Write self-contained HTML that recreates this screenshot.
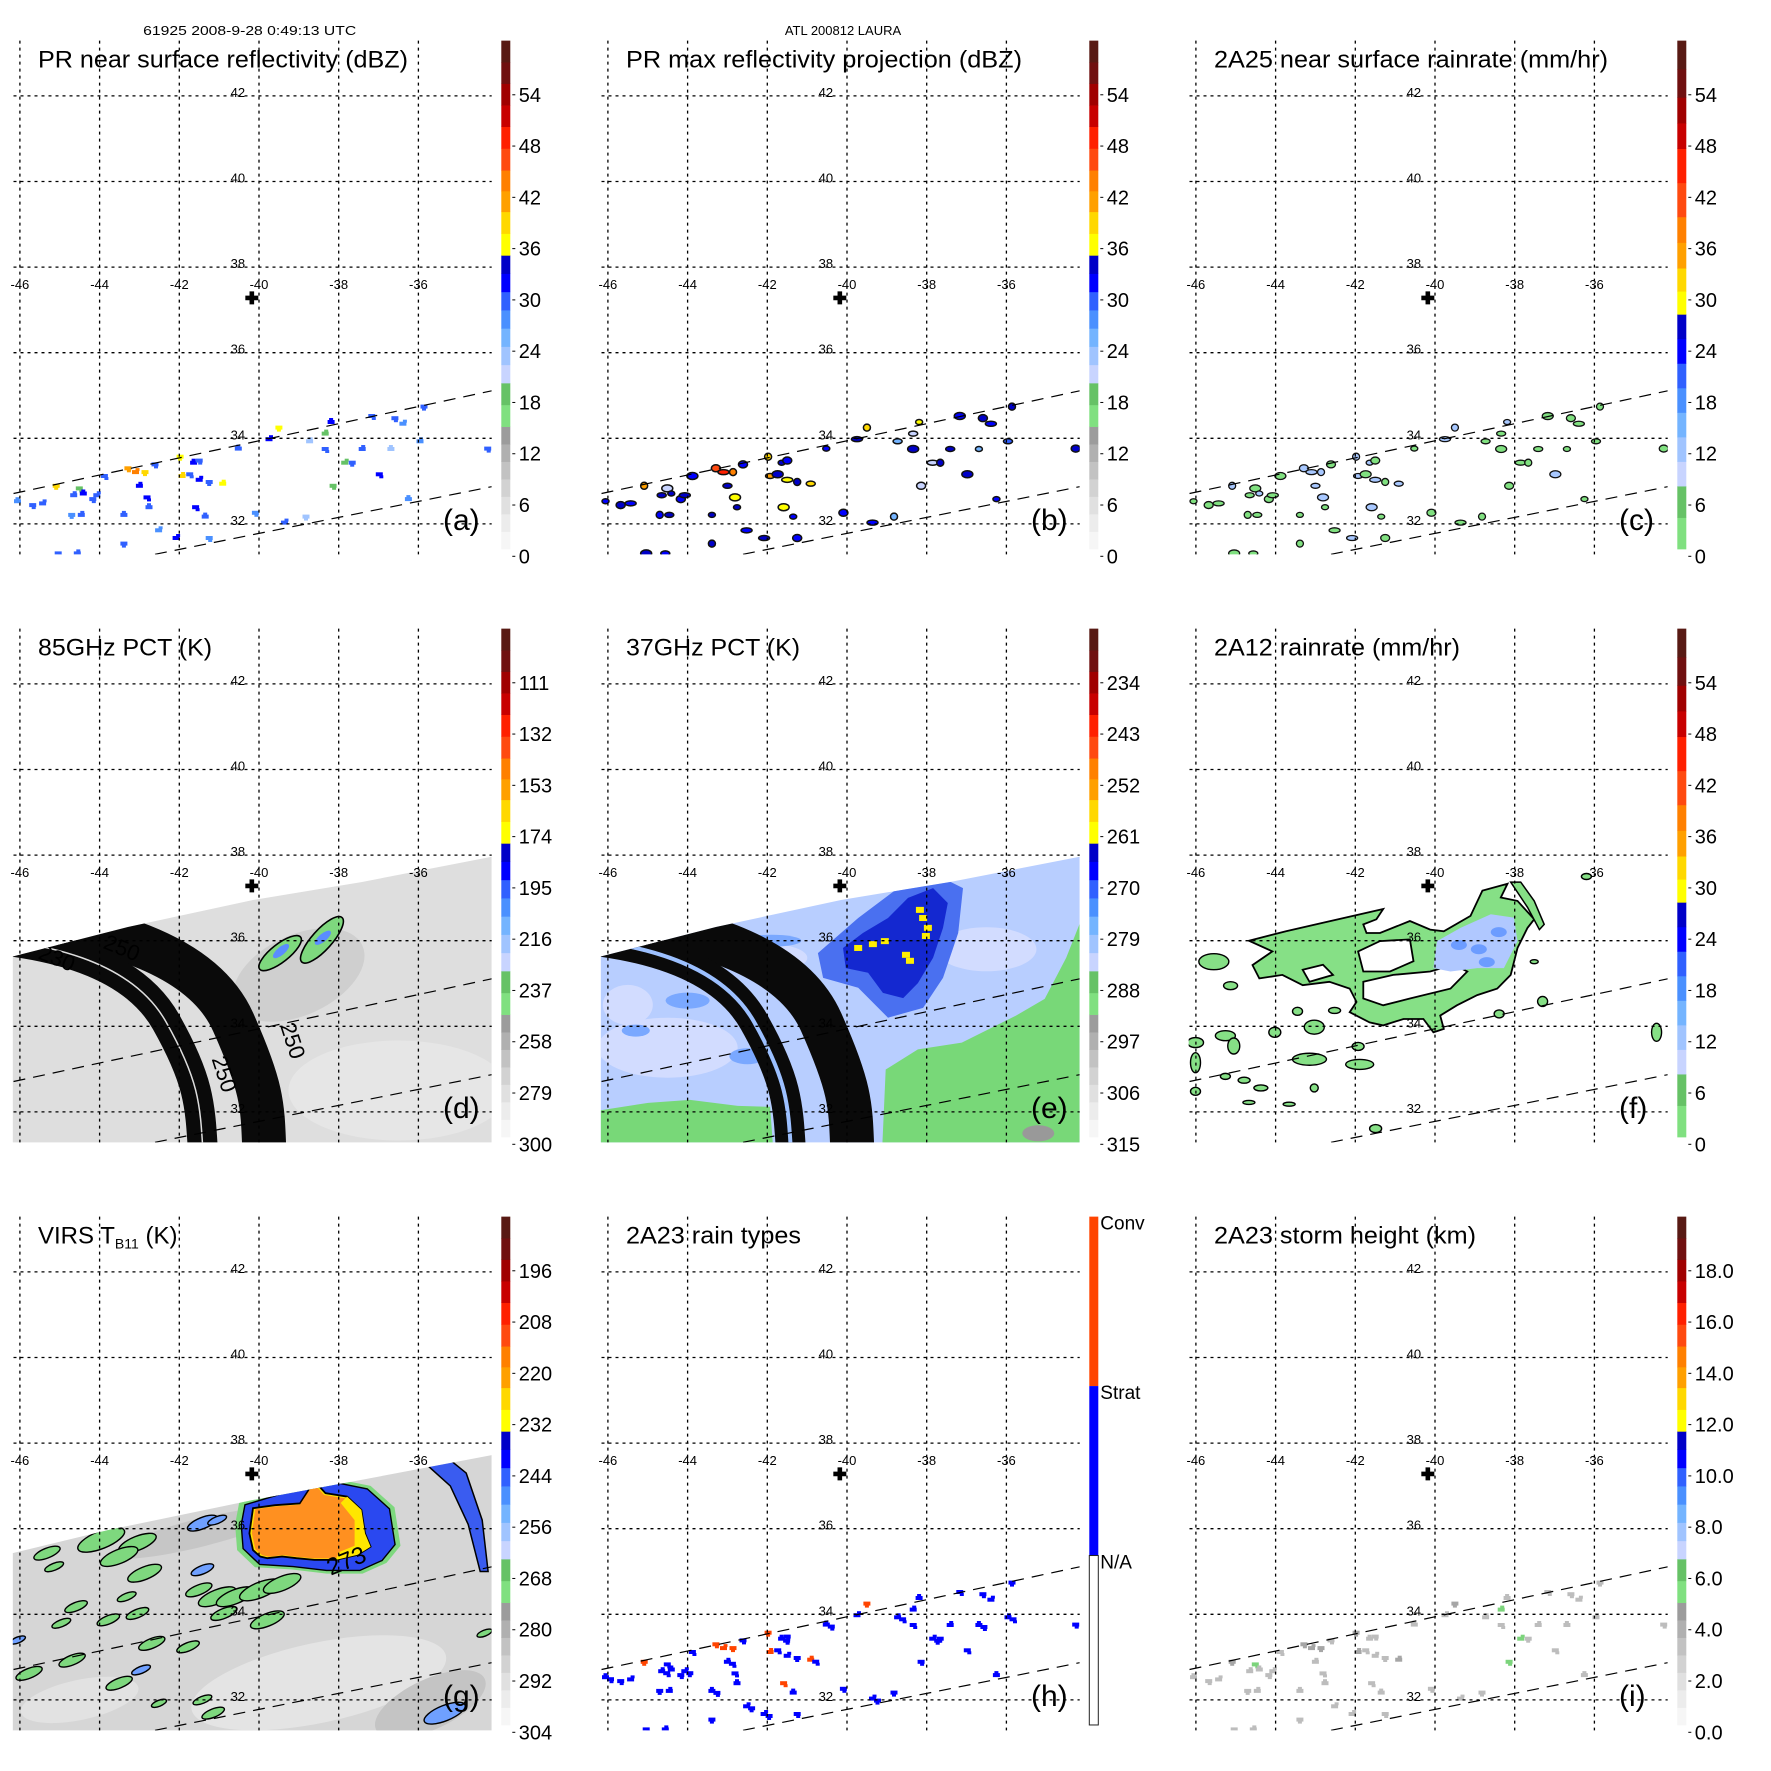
<!DOCTYPE html>
<html><head><meta charset="utf-8">
<style>
html,body{margin:0;padding:0;background:#fff;}
svg{display:block;font-family:"Liberation Sans",sans-serif;}
</style></head>
<body>
<svg id="fig" xmlns="http://www.w3.org/2000/svg" width="1771" height="1771" viewBox="0 0 1771 1771">
<rect x="0" y="0" width="1771" height="1771" fill="#fff"/>
<text x="249.7" y="35" font-size="13" text-anchor="middle" textLength="213" lengthAdjust="spacingAndGlyphs">61925 2008-9-28 0:49:13 UTC</text>
<text x="843" y="35" font-size="13" text-anchor="middle">ATL 200812 LAURA</text>
</svg>
<script>
// ---------- data ----------
const lonTicks=[-46,-44,-42,-40,-38,-36];
const latTicks=[42,40,38,36,34,32];
const panelTitles=["PR near surface reflectivity (dBZ)","PR max reflectivity projection (dBZ)","2A25 near surface rainrate (mm/hr)","85GHz PCT (K)","37GHz PCT (K)","2A12 rainrate (mm/hr)","VIRS T","2A23 rain types","2A23 storm height (km)"];
const titleWidths=[370,396,394,174,174,246,0,175,262];
const panelLetters=["(a)","(b)","(c)","(d)","(e)","(f)","(g)","(h)","(i)"];
const ticksA=["54","48","42","36","30","24","18","12","6","0"];
const ticksC=["54","48","42","36","30","24","18","12","6","0"];
const ticksD=["111","132","153","174","195","216","237","258","279","300"];
const ticksE=["234","243","252","261","270","279","288","297","306","315"];
const ticksG=["196","208","220","232","244","256","268","280","292","304"];
const ticksI=["18.0","16.0","14.0","12.0","10.0","8.0","6.0","4.0","2.0","0.0"];
const rainTypeLabels=["Conv","Strat","N/A"];
// PR echoes (lon, lat, dBZ)
const echoLon=[-46.06,-45.68,-45.43,-45.09,-44.65,-44.51,-44.41,-44.17,-44.07,-44.70,-44.46,-43.88,-43.39,-43.29,-43.10,-42.86,-43.00,-42.81,-42.76,-42.61,-42.52,-41.98,-41.93,-41.74,-41.64,-41.50,-41.50,-41.25,-40.91,-41.59,-41.35,-41.25,-42.08,-43.39,-44.56,-45.04,-40.52,-40.09,-39.75,-39.50,-38.73,-38.34,-38.19,-38.14,-37.85,-37.66,-38.34,-37.17,-36.69,-36.59,-36.39,-35.86,-35.96,-36.98,-36.25,-34.26,-39.36,-38.82,-37.41];
const echoLat=[32.53,32.44,32.48,32.89,32.67,32.83,32.71,32.58,32.67,32.21,32.21,33.12,32.21,33.30,33.21,33.21,32.89,32.62,32.39,33.39,31.85,33.57,33.12,33.16,33.43,33.48,33.03,32.98,32.94,32.39,32.17,31.67,31.67,31.54,31.31,31.31,33.76,32.26,33.98,34.25,33.93,33.75,34.38,32.89,33.43,33.43,34.11,34.52,33.75,34.47,34.34,34.74,33.93,33.16,32.58,33.76,32.03,32.17,33.75];
const echoVal=[28,30,29,38,30,18,31,29,30,28,30,29,30,42,45,40,31,32,30,29,28,36,38,30,31,29,32,30,36,33,29,28,31,30,29,30,29,28,31,36,23,30,32,18,18,30,18,29,23,30,28,30,27,31,28,30,29,23,30];
// swath edges (lon, lat)
const swathUpper=[[-46.16,32.71],[-34.16,35.11]];
const swathLower=[[-42.61,31.29],[-34.16,32.87]];
const tmiTopEdge=[[-46.18,35.63],[-43.29,36.32],[-40.15,36.95],[-37.43,37.37],[-34.16,37.96]];
const virsTopEdge=[[-46.18,35.43],[-43.78,35.97],[-40.15,36.67],[-37.43,37.14],[-34.16,37.72]];
const swathBottomLat=31.1;
// contour bands (cubic path nodes lon,lat)
const band1=[[-45.75,36.53],[-44.24,36.30],[-41.48,35.83],[-40.65,34.10],[-39.92,32.09],[-39.85,30.69]];
const band2=[[-47.00,36.06],[-45.50,35.95],[-43.24,35.60],[-42.33,34.10],[-41.48,32.09],[-41.38,30.69]];
const bandLabelLon=[-43.51,-45.14,-39.33,-41.05];
const bandLabelLat=[35.67,35.43,33.61,32.83];
const bandLabelText=["250","230","250","250"];
const bandLabelRot=[22,22,72,72];
// 85GHz storm cells (lon,lat)
const cellLon=[-39.47,-38.42];
const cellLat=[35.71,36.02];
// 37GHz features
const e37Green1=[[-34.16,36.4],[-34.5,35.6],[-35.04,34.64],[-35.76,34.25],[-37.12,33.62],[-38.22,33.46],[-39.03,32.99],[-39.12,31.1],[-34.16,31.1]];
const e37Green2=[[-46.18,32.04],[-44.99,32.21],[-43.94,32.28],[-42.74,32.14],[-41.93,32.12],[-41.85,31.1],[-46.18,31.1]];
const e37Halo=[[-40.73,35.71],[-39.72,36.53],[-38.72,37.23],[-37.84,37.58],[-37.09,37.23],[-37.21,36.18],[-37.59,35.13],[-38.09,34.43],[-38.97,34.20],[-39.72,34.90],[-40.60,35.13]];
const e37Core=[[-40.10,35.83],[-39.60,36.18],[-38.97,36.53],[-38.47,37.00],[-37.84,37.23],[-37.47,36.88],[-37.59,36.30],[-37.84,35.60],[-38.22,35.01],[-38.59,34.66],[-39.10,34.78],[-39.47,35.25],[-40.03,35.36]];
const e37YellowLon=[-38.09,-37.97,-38.02,-38.17,-39.72,-39.35,-39.05,-38.52,-38.42];
const e37YellowLat=[36.53,36.30,36.11,36.72,35.83,35.92,35.99,35.67,35.53];
// VIRS features
const virsCloud=[[-40.15,36.48],[-39.60,36.55],[-38.97,36.59],[-38.70,36.98],[-38.52,37.02],[-38.33,36.83],[-37.79,36.75],[-37.43,36.44],[-37.34,35.89],[-37.20,35.58],[-37.52,35.39],[-38.07,35.27],[-38.61,35.27],[-39.06,35.31],[-39.42,35.35],[-39.79,35.31],[-39.97,35.35],[-40.15,35.50],[-40.24,35.89]];
const virsYellow=[[-37.79,36.75],[-37.43,36.44],[-37.34,35.89],[-37.20,35.58],[-37.52,35.39],[-38.07,35.27],[-38.0,35.45],[-37.6,35.6],[-37.6,36.2],[-37.95,36.6]];
const virsHalo=[[-40.5,36.6],[-39.6,36.85],[-38.8,37.2],[-38.0,37.15],[-37.2,37.0],[-36.6,36.5],[-36.45,35.6],[-36.8,35.2],[-37.4,34.95],[-38.3,34.95],[-39.2,35.05],[-40.1,35.1],[-40.55,35.5],[-40.6,36.1]];
const virsEdgeBand=[[-35.81,37.51],[-35.2,37.6],[-34.8,37.3],[-34.4,36.2],[-34.25,35.0],[-34.45,35.0],[-34.75,36.1],[-35.2,37.0]];
const cloudLon=[-45.32,-43.96,-43.05,-43.51,-42.87,-45.14,-41.42,-41.05,-41.42,-41.51,-41.05,-40.60,-39.97,-39.42,-39.79,-40.88,-43.05,-43.32,-44.59,-44.96,-43.78,-42.69,-41.78,-42.96,-43.51,-44.69,-45.77,-46.05,-41.42,-41.15,-42.51,-35.34,-34.34];
const cloudLat=[35.43,35.74,35.66,35.35,34.96,35.11,36.13,36.20,35.04,34.57,34.41,34.41,34.57,34.72,33.87,34.02,34.02,34.41,34.18,33.79,33.87,33.32,33.24,32.70,32.39,32.93,32.62,33.40,32.00,31.69,31.92,31.69,33.56];
const cloudSize=[14,25,20,20,18,10,16,10,12,14,20,20,22,20,18,14,12,10,12,10,12,14,12,10,14,14,14,8,10,12,8,22,8];
const cloudCold=[0,0,0,0,0,0,1,1,1,0,0,0,0,0,0,0,0,0,0,0,0,0,0,1,0,0,0,1,0,0,0,1,0];
// 2A12 rain field
const rainOuter=[[-44.67,36.00],[-43.74,36.22],[-42.81,36.42],[-41.30,36.74],[-41.47,36.50],[-41.80,36.38],[-41.72,36.18],[-41.38,36.18],[-40.63,36.46],[-40.12,36.26],[-39.78,36.22],[-39.11,36.58],[-38.81,37.17],[-38.18,37.33],[-38.35,37.01],[-37.93,36.93],[-37.51,36.50],[-37.68,36.30],[-37.93,35.83],[-38.10,35.20],[-38.44,34.88],[-38.94,34.73],[-39.45,34.49],[-39.87,34.25],[-39.78,33.94],[-40.04,33.86],[-40.29,34.17],[-40.79,34.17],[-41.30,34.02],[-41.64,34.09],[-42.14,34.33],[-41.97,34.57],[-42.14,34.88],[-42.65,35.04],[-43.32,34.96],[-43.83,35.20],[-44.41,35.12],[-44.58,35.43],[-44.08,35.75]];
const rainHole1=[[-41.93,35.75],[-41.38,35.99],[-40.63,36.03],[-40.54,35.52],[-41.13,35.28],[-41.80,35.28]];
const rainHole2=[[-43.32,35.32],[-42.81,35.44],[-42.56,35.20],[-43.15,35.04]];
const rainHole3=[[-41.80,35.04],[-41.05,35.20],[-40.12,35.28],[-39.53,35.44],[-39.19,35.28],[-39.61,34.88],[-40.63,34.65],[-41.30,34.49],[-41.80,34.65]];
const rainHeavy=[[-39.95,35.99],[-39.36,36.30],[-38.60,36.62],[-38.02,36.54],[-37.93,35.99],[-38.27,35.36],[-38.94,35.36],[-39.61,35.28],[-40.04,35.36]];
const rainStrip=[[-38.10,37.37],[-37.85,37.37],[-37.51,36.93],[-37.26,36.38],[-37.38,36.26],[-37.68,36.78]];
const rainBlobLon=[-45.55,-45.13,-43.45,-42.52,-43.03,-44.02,-45.26,-45.05,-46.01,-46.01,-43.15,-41.89,-41.93,-45.26,-44.79,-44.37,-43.03,-43.66,-44.67,-46.01,-41.49,-38.39,-37.30,-34.44,-36.20,-37.51];
const rainBlobLat=[35.51,34.95,34.35,34.37,33.98,33.86,33.78,33.54,33.62,33.15,33.23,33.11,33.53,32.83,32.74,32.56,32.56,32.18,32.22,32.48,31.61,34.29,34.58,33.86,37.50,35.51];
const rainBlobRx=[15,7,5,6,10,6,10,6,8,5,17,14,6,5,6,7,4,6,6,5,6,5,5,5,5,4];
const rainBlobRy=[8,4,4,3,7,5,5,8,5,10,6,5,4,3,3,3,4,2,2,4,4,4,5,9,3,2];

// ---------- geometry ----------
function X(lon){return 259+(lon+40)*39.85;}
function Y(lat){return 267.1-(lat-38)*42.8;}
const PANEL=588;
const MAPL=12.7, MAPR=491.7, MAPT=40.6, MAPB=554.4;
const BARX=501.3, BARW=9;
function tY(t){return 556.3-t*51.28;}
const NS='http://www.w3.org/2000/svg';
const svg=document.getElementById('fig');
function mk(tag,attrs,parent){const e=document.createElementNS(NS,tag);for(const k in attrs)e.setAttribute(k,attrs[k]);(parent||svg).appendChild(e);return e;}
function P(a){return a.map(p=>X(p[0]).toFixed(1)+','+Y(p[1]).toFixed(1)).join(' ');}
function bandPath(a){return 'M'+X(a[0][0]).toFixed(1)+','+Y(a[0][1]).toFixed(1)+' C'+[a[1],a[2],a[3]].map(p=>X(p[0]).toFixed(1)+','+Y(p[1]).toFixed(1)).join(' ')+' S'+[a[4],a[5]].map(p=>X(p[0]).toFixed(1)+','+Y(p[1]).toFixed(1)).join(' ');}
function swathPoly(top){return P(top)+' '+X(top[top.length-1][0]).toFixed(1)+','+Y(swathBottomLat).toFixed(1)+' '+X(top[0][0]).toFixed(1)+','+Y(swathBottomLat).toFixed(1);}

// colour bars
const stdBar=[[0.143,2.53,['#f6f6f6','#ececec','#e0e0e0','#d2d2d2','#c2c2c2','#b0b0b0','#9c9c9c']],[2.53,3.38,['#80e080','#66c266']],[3.38,5.87,['#c8d4ff','#a0c4ff','#74b4ff','#4a90ff','#3060ff','#0000ff','#0000c8']],[5.87,6.72,['#ffff00','#ffd800']],[6.72,7.53,['#ffa000','#ff8000']],[7.53,8.38,['#ff4a10','#ff2000']],[8.38,9.22,['#c80000','#a00000']],[9.22,10.056,['#701010','#581a14']]];
const rainBar=[[0.143,1.37,['#80e080','#66c266']],[1.37,4.72,['#c8d4ff','#a0c4ff','#74b4ff','#4a90ff','#3060ff','#0000ff','#0000c8']],[4.72,5.62,['#ffff00','#ffd800']],[5.62,6.62,['#ffa000','#ff8000']],[6.62,7.95,['#ff4a10','#ff2000']],[7.95,8.95,['#c80000','#a00000']],[8.95,10.056,['#701010','#581a14']]];
function colorFor(bar,t){for(const g of bar){if(t>=g[0]&&t<g[1]){const n=g[2].length;const k=Math.min(n-1,Math.floor((t-g[0])/(g[1]-g[0])*n));return g[2][k];}}return t<bar[0][0]?'#fafafa':'#581a14';}

const panelTicks=[ticksA,ticksA,ticksC,ticksD,ticksE,ticksC,ticksG,null,ticksI];
const panelBars=[stdBar,stdBar,rainBar,stdBar,stdBar,rainBar,stdBar,null,stdBar];

function drawBar(g,idx){
  if(idx===7){
    const h=(tY(0.143)-tY(10.056));
    const top=tY(10.056);
    const r1=mk('rect',{x:BARX,y:top,width:BARW,height:h/3,fill:'#ff4400'},g);
    
    
    const r2=mk('rect',{x:BARX,y:top+h/3,width:BARW,height:h/3,fill:'#0000ff'},g);
    
    
    const r3=mk('rect',{x:BARX,y:top+2*h/3,width:BARW,height:h/3,fill:'#fff',stroke:'#222','stroke-width':1},g);
    
    
    rainTypeLabels.forEach((s,i)=>{
      const t=mk('text',{x:BARX+BARW+2,y:top+i*h/3+13,'font-size':19},g);
      
      
      t.textContent=s;
    });
    return;
  }
  const bar=panelBars[idx];
  bar.forEach(gr=>{
    const n=gr[2].length;const dt=(gr[1]-gr[0])/n;
    gr[2].forEach((col,k)=>{
      const y1=tY(gr[0]+(k+1)*dt), y0=tY(gr[0]+k*dt);
      const r=mk('rect',{x:BARX,y:y1.toFixed(2),width:BARW,height:(y0-y1+0.4).toFixed(2),fill:col},g);
      
      
    });
  });
  panelTicks[idx].forEach((s,i)=>{
    const t=9-i;const y=tY(t);
    const tk=mk('line',{x1:BARX+BARW+2,x2:BARX+BARW+5,y1:y,y2:y,stroke:'#000','stroke-width':1},g);
    
    
    const tx=mk('text',{x:BARX+BARW+8.5,y:y+7,'font-size':20},g);
    
    
    tx.textContent=s;
  });
}

function speck(g,x,y,col,i,name){
  const a=mk('rect',{x:(x-3.5).toFixed(1),y:(y-2).toFixed(1),width:7,height:4,fill:col},g);
  
  
  const b=mk('rect',{x:(x+(i%3)-2).toFixed(1),y:(y-4+(i%2)*5).toFixed(1),width:4,height:3,fill:col},g);
  
  
}

function drawEchoes(g,idx){
  for(let i=0;i<echoLon.length;i++){
    const x=X(echoLon[i]),y=Y(echoLat[i]),v=echoVal[i];
    if(idx===0){speck(g,x,y,colorFor(stdBar,v/6),i,'pr-echo');}
    else if(idx===1){
      const e=mk('ellipse',{cx:x,cy:y,rx:3.5+(i%3),ry:2.5+(i%2),fill:colorFor(stdBar,v/6+0.6),stroke:'#111','stroke-width':1.5},g);
      
      
    } else if(idx===2){
      const e=mk('ellipse',{cx:x,cy:y,rx:3.5+(i%3),ry:2.5+(i%2),fill:v>30?'#a8c8ff':'#80e080',stroke:'#111','stroke-width':1.3},g);
      
      
    } else if(idx===7){
      speck(g,x,y,v>=33?'#ff4400':'#0000ff',i,'rain-type-pixel');
      if(i%4===0){speck(g,x+5,y+2,'#0000ff',i+1,'rain-type-pixel');}
    } else if(idx===8){
      speck(g,x,y,v>=36?'#a6a6a6':(v<20?'#7cd47c':'#bdbdbd'),i,'storm-height-pixel');
    }
  }
}

function poly(g,arr,attrs,name){const e=mk('polygon',Object.assign({points:P(arr)},attrs),g);return e;}

function drawTMI(g,idx){
  const sw=mk('polygon',{points:swathPoly(tmiTopEdge),fill:idx===3?'#dedede':'#b8ceff'},g);
  
  
  const cp=mk('clipPath',{id:'sw'+idx},g);
  const cpp=mk('polygon',{points:swathPoly(tmiTopEdge)},cp);
  
  
  const inner=mk('g',{'clip-path':'url(#sw'+idx+')'},g);
  
  
  if(idx===3){
    const sh=mk('ellipse',{cx:X(-39),cy:Y(35.2),rx:70,ry:40,fill:'#cfcfcf',transform:`rotate(-25 ${X(-39)} ${Y(35.2)})`},inner);
    
    
    const lt=mk('ellipse',{cx:X(-36.5),cy:Y(32.5),rx:110,ry:50,fill:'#e6e6e6'},inner);
    
    
    cellLon.forEach((lon,i)=>{
      const x=X(lon),y=Y(cellLat[i]);
      const e=mk('ellipse',{cx:x,cy:y,rx:i?30:26,ry:i?10:9,fill:'#7ed87e',stroke:'#000','stroke-width':1.6,transform:`rotate(${i?-48:-38} ${x} ${y})`},inner);
      
      
      const b=mk('ellipse',{cx:x+2,cy:y-1,rx:10,ry:4,fill:'#5a8cff',transform:`rotate(-40 ${x} ${y})`},inner);
      
      
    });
  } else {
    const pale=[[-44.5,33.5,70,30],[-36.5,35.8,50,22],[-42,35.6,40,14],[-45.5,34.5,25,20]];
    pale.forEach(p=>{const e=mk('ellipse',{cx:X(p[0]),cy:Y(p[1]),rx:p[2],ry:p[3],fill:'#d2dcff'},inner);});
    const mid=[[-44,34.6,22,8],[-42.5,33.3,18,8],[-45.3,33.9,14,6],[-41.9,36.0,30,6]];
    mid.forEach(p=>{const e=mk('ellipse',{cx:X(p[0]),cy:Y(p[1]),rx:p[2],ry:p[3],fill:'#7aa8ff'},inner);});
    poly(inner,e37Green1,{fill:'#78d878'},'warm-ocean-region');
    poly(inner,e37Green2,{fill:'#78d878'},'warm-ocean-region');
    const gs=mk('ellipse',{cx:X(-35.2),cy:Y(31.5),rx:16,ry:8,fill:'#999'},inner);
    
    
    poly(inner,e37Halo,{fill:'#4a70f0'},'scattering-halo');
    poly(inner,e37Core,{fill:'#1428d0'},'scattering-core');
    e37YellowLon.forEach((lon,i)=>{const r=mk('rect',{x:X(lon)-4,y:Y(e37YellowLat[i])-3,width:8,height:6,fill:'#ffee00'},inner);});
  }
  const b1=mk('path',{d:bandPath(band1),fill:'none',stroke:'#0a0a0a','stroke-width':44},inner);
  
  
  const b2=mk('path',{d:bandPath(band2),fill:'none',stroke:'#0a0a0a','stroke-width':30},inner);
  
  
  const b3=mk('path',{d:bandPath(band2),fill:'none',stroke:idx===3?'#ddd':'#9cc0ff','stroke-width':idx===3?1.5:4},inner);
  
  
  if(idx===3){
    bandLabelLon.forEach((lon,i)=>{
      const x=X(lon),y=Y(bandLabelLat[i]);
      const t=mk('text',{x:x,y:y,'font-size':22,'text-anchor':'middle',transform:`rotate(${bandLabelRot[i]} ${x} ${y})`},inner);
      
      
      t.textContent=bandLabelText[i];
    });
  }
}

function drawVIRS(g){
  const sw=mk('polygon',{points:swathPoly(virsTopEdge),fill:'#d6d6d6'},g);
  
  
  const cp=mk('clipPath',{id:'swg'},g);
  const cpp=mk('polygon',{points:swathPoly(virsTopEdge)},cp);
  
  
  const inner=mk('g',{'clip-path':'url(#swg)'},g);
  
  
  const sh=[[-38.5,32.4,130,40,'#e4e4e4',-12],[-35.7,31.9,60,25,'#c4c4c4',-25],[-41.5,35.9,90,14,'#c6c6c6',-14],[-44.5,32.0,60,20,'#e2e2e2',-12]];
  sh.forEach(p=>{const e=mk('ellipse',{cx:X(p[0]),cy:Y(p[1]),rx:p[2],ry:p[3],fill:p[4],transform:`rotate(${p[5]} ${X(p[0])} ${Y(p[1])})`},inner);});
  poly(inner,virsEdgeBand,{fill:'#3a5cf0',stroke:'#000','stroke-width':1.5},'cold-cloud-band');
  cloudLon.forEach((lon,i)=>{
    const x=X(lon),y=Y(cloudLat[i]),s=cloudSize[i];
    const e=mk('ellipse',{cx:x,cy:y,rx:s,ry:Math.max(3,s*0.35),fill:cloudCold[i]?'#6fa0ff':'#7ed87e',stroke:'#000','stroke-width':1.4,transform:`rotate(-22 ${x} ${y})`},inner);
    
    
  });
  poly(inner,virsHalo,{fill:'#7ed87e'},'cloud-shield-edge');
  const hb=mk('polygon',{points:P(virsHalo),fill:'#2a48f0',stroke:'#000','stroke-width':1.5,transform:`translate(${X(-38.4)} ${Y(36.0)}) scale(0.93) translate(${-X(-38.4)} ${-Y(36.0)})`},inner);
  
  
  poly(inner,virsCloud,{fill:'#ffe000',stroke:'#000','stroke-width':1.8},'cold-cloud-top');
  const oc=mk('polygon',{points:P(virsCloud),fill:'#ff9020',transform:`translate(${X(-39.0)} ${Y(36.0)}) scale(0.95) translate(${-X(-39.0)} ${-Y(36.0)})`},inner);
  
  
  poly(inner,virsYellow,{fill:'#ffe600'},'cloud-top-rim');
  const t=mk('text',{x:X(-38.2),y:Y(34.9),'font-size':24,transform:`rotate(-22 ${X(-38.2)} ${Y(34.9)})`},inner);
  
  
  t.textContent='273';
}

function drawRain(g){
  const d='M'+P(rainOuter).replace(/ /g,' L')+'Z M'+P(rainHole1).replace(/ /g,' L')+'Z M'+P(rainHole2).replace(/ /g,' L')+'Z M'+P(rainHole3).replace(/ /g,' L')+'Z';
  const r=mk('path',{d:d,fill:'#86e086','fill-rule':'evenodd',stroke:'#000','stroke-width':1.8},g);
  
  
  poly(g,rainHeavy,{fill:'#b0c8ff'},'moderate-rain-area');
  const spots=[[-38.9,35.8],[-38.4,36.2],[-38.7,35.5],[-39.4,35.9]];
  spots.forEach(p=>{const e=mk('ellipse',{cx:X(p[0]),cy:Y(p[1]),rx:8,ry:5,fill:'#6c9cff'},g);});
  poly(g,rainStrip,{fill:'#86e086',stroke:'#000','stroke-width':1.5},'rain-band-edge');
  rainBlobLon.forEach((lon,i)=>{
    const e=mk('ellipse',{cx:X(lon),cy:Y(rainBlobLat[i]),rx:rainBlobRx[i],ry:rainBlobRy[i],fill:'#86e086',stroke:'#000','stroke-width':1.4},g);
    
    
  });
}

for(let idx=0;idx<9;idx++){
  const col=idx%3,row=Math.floor(idx/3);
  const g=mk('g',{transform:`translate(${col*PANEL} ${row*PANEL})`});
  
  
  const cp=mk('clipPath',{id:'map'+idx},g);
  const cr=mk('rect',{x:MAPL,y:MAPT,width:MAPR-MAPL,height:MAPB-MAPT},cp);
  
  
  const mg=mk('g',{'clip-path':`url(#map${idx})`},g);
  
  
  if(idx===3||idx===4)drawTMI(mg,idx);
  else if(idx===6)drawVIRS(mg);
  else if(idx===5)drawRain(mg);
  else drawEchoes(mg,idx);
  [swathUpper,swathLower].forEach((s,k)=>{
    const l=mk('line',{x1:X(s[0][0]),y1:Y(s[0][1]),x2:X(s[1][0]),y2:Y(s[1][1]),stroke:'#000','stroke-width':1.2,'stroke-dasharray':'12 8'},mg);
    
    
  });
  lonTicks.forEach(lon=>{
    const l=mk('line',{x1:X(lon),x2:X(lon),y1:MAPT,y2:MAPB,stroke:'#000','stroke-width':1.3,'stroke-dasharray':'3 4'},g);
    
    
    const t=mk('text',{x:X(lon),y:289,'font-size':13,'text-anchor':'middle'},g);
    
    
    t.textContent=String(lon);
  });
  latTicks.forEach(lat=>{
    const l=mk('line',{x1:13.5,x2:MAPR,y1:Y(lat),y2:Y(lat),stroke:'#000','stroke-width':1.3,'stroke-dasharray':'3 4'},g);
    
    
    const t=mk('text',{x:X(-40.53),y:Y(lat)+1,'font-size':13,'text-anchor':'middle'},g);
    
    
    t.textContent=String(lat);
  });
  const px=X(-40.18),py=Y(37.28);
  const plus=mk('path',{d:`M${px-6.5},${py-2.3}h13v4.6h-13z M${px-2.3},${py-6.5}h4.6v13h-4.6z`,fill:'#000'},g);
  
  
  const tt=mk('text',{x:38,y:67.7,'font-size':24},g);
  
  
  if(idx===6){
    tt.textContent='VIRS T';
    const sub=mk('tspan',{'font-size':14,dy:5},tt);
    
    
    sub.textContent='B11';
    const rest=mk('tspan',{dy:-5},tt);
    
    
    rest.textContent=' (K)';
  } else {
    tt.setAttribute('textLength',titleWidths[idx]);
    tt.setAttribute('lengthAdjust','spacingAndGlyphs');
    tt.textContent=panelTitles[idx];
  }
  const lt=mk('text',{x:443,y:530,'font-size':30},g);
  
  
  lt.textContent=panelLetters[idx];
  drawBar(g,idx);
}
</script>
</body></html>
